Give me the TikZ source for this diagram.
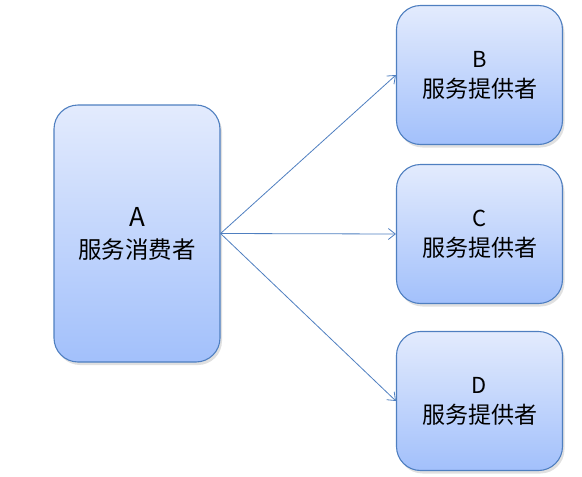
\documentclass[tikz,border=0pt]{standalone}
\usepackage{fontspec}
\setmainfont{Noto Sans CJK SC}
\usetikzlibrary{shadows,arrows.meta}
\definecolor{boxline}{HTML}{4F7FC0}
\definecolor{boxtop}{HTML}{E3EBFD}
\definecolor{boxbot}{HTML}{A2C0FB}
\tikzset{
  svcbox/.style={draw=boxline, line width=1.1pt, rounded corners=24pt,
    top color=boxtop, bottom color=boxbot, align=center,
    minimum width=166pt, inner sep=0pt,
    drop shadow={shadow xshift=2pt, shadow yshift=-3pt, opacity=0.2, fill=black!60}},
  call/.style={draw=boxline, line width=0.8pt, -{Straight Barb[length=7pt,width=11pt,line width=0.8pt]}}
}
\begin{document}
\begin{tikzpicture}[x=1pt,y=-1pt]
\useasboundingbox (0,0) rectangle (582,477);
\def\px{479.5}

% consumer
\node[svcbox, minimum height=257pt, font=\fontsize{23.5}{32}\selectfont] (a) at (137,233.5)
  {{\fontsize{26}{32}\selectfont A}\\服务消费者};

% providers
\foreach \name/\lbl/\y in {b/B/75, c/C/234, d/D/401}
{
	\node[svcbox, minimum height=139pt, font=\fontsize{23}{30}\selectfont] (\name) at (\px,\y)
	  {{\fontsize{22}{30}\selectfont\lbl}\\服务提供者};
	\draw[call] (a.east) -- (\name.west);
}

\end{tikzpicture}
\end{document}
